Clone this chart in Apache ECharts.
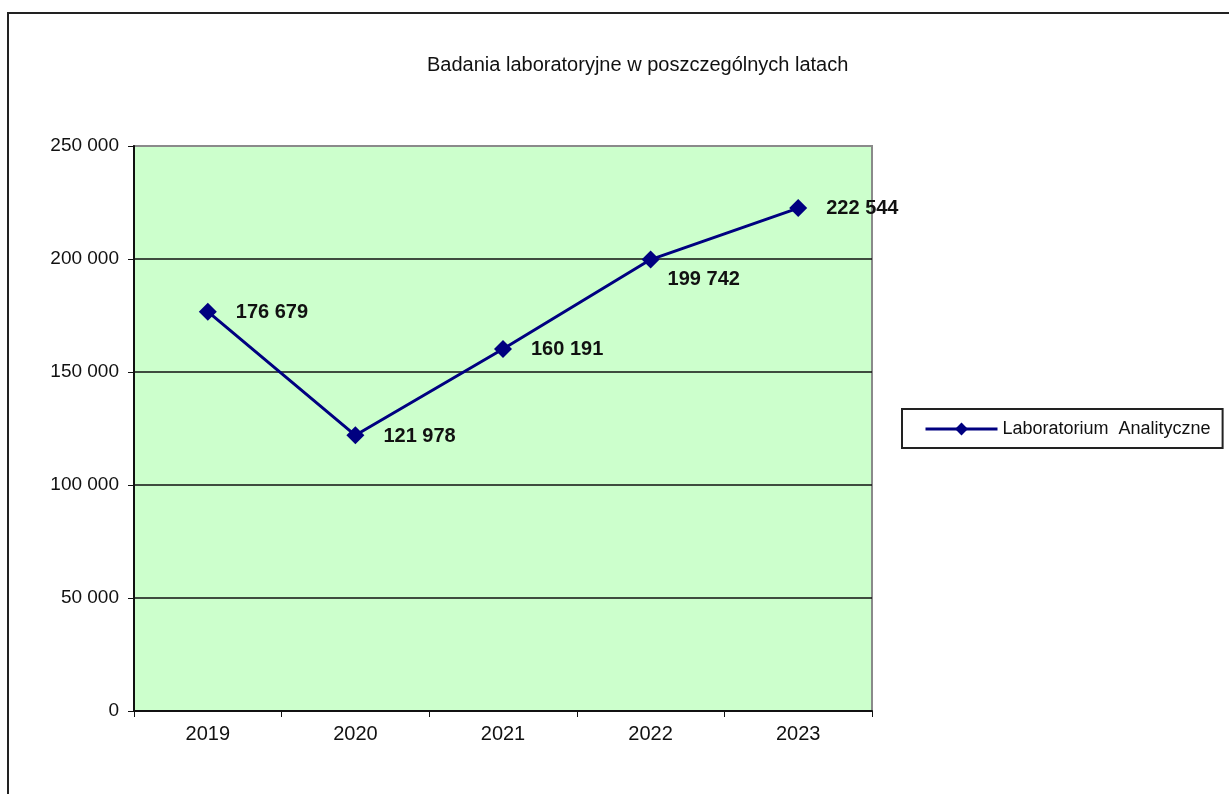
<!DOCTYPE html>
<html>
<head>
<meta charset="utf-8">
<title>Badania laboratoryjne</title>
<script src="https://cdn.jsdelivr.net/npm/echarts@6/dist/echarts.min.js"></script>
<style>
    html, body { margin: 0; padding: 0; background: #fff; }
    #chart { width: 1229px; height: 794px; }
</style>
</head>
<body>
<div id="chart"></div>
<script>
    // dane
    var years = ['2019', '2020', '2021', '2022', '2023'];
    var values = [176679, 121978, 160191, 199742, 222544];
    var seriesName = 'Laboratorium  Analityczne';

    // przesunięcia etykiet (dla 2022 etykieta pod punktem)
    var labelOffsets = [[0, 1], [0, 1], [0, 1], [-11, 20], [0, 0]];

    function fmt(v) {
        return String(v).replace(/\B(?=(\d{3})+(?!\d))/g, ' ');
    }

    var chart = echarts.init(document.getElementById('chart'));
    var option = {
        backgroundColor: '#fff',
        textStyle: { fontFamily: 'Liberation Sans, Arial, sans-serif' },
        graphic: [{
            type: 'rect',
            shape: { x: 8, y: 13, width: 1260, height: 820 },
            style: { fill: 'none', stroke: '#222', lineWidth: 2 },
            silent: true
        }],
        title: {
            text: 'Badania laboratoryjne w poszczególnych latach',
            left: 422,
            top: 50,
            textStyle: { fontSize: 20, fontWeight: 'normal', color: '#111' }
        },
        legend: {
            left: 902,
            top: 409,
            orient: 'vertical',
            borderColor: '#222',
            borderWidth: 2,
            padding: [11, 12, 10, 22],
            itemWidth: 72,
            itemHeight: 16,
            lineStyle: { width: 3 },
            textStyle: { fontSize: 18, color: '#111' },
            data: [seriesName]
        },
        grid: {
            left: 134,
            top: 146,
            width: 738,
            height: 565,
            show: true,
            backgroundColor: '#ccffcc',
            borderColor: '#8a8a8a',
            borderWidth: 2
        },
        xAxis: {
            type: 'category',
            data: years,
            boundaryGap: true,
            axisLine: { lineStyle: { color: '#111', width: 2 } },
            axisTick: { show: true, length: 6, lineStyle: { color: '#111' } },
            axisLabel: { fontSize: 20, color: '#111', margin: 13 }
        },
        yAxis: {
            type: 'value',
            min: 0,
            max: 250000,
            interval: 50000,
            axisLine: { show: true, lineStyle: { color: '#111', width: 2 } },
            axisTick: { show: true, length: 6, lineStyle: { color: '#111' } },
            axisLabel: { fontSize: 19, color: '#111', margin: 15, formatter: fmt },
            splitLine: { showMaxLine: false, lineStyle: { color: '#111', width: 1.5 } }
        },
        series: [{
            name: seriesName,
            type: 'line',
            data: values.map(function (v, i) {
                return { value: v, label: { offset: labelOffsets[i] } };
            }),
            symbol: 'diamond',
            symbolSize: 18,
            lineStyle: { color: '#000080', width: 3 },
            itemStyle: { color: '#000080' },
            label: {
                show: true,
                position: 'right',
                distance: 19,
                fontSize: 20,
                fontWeight: 'bold',
                color: '#111',
                formatter: function (p) { return fmt(p.value); }
            }
        }]
    };
    chart.setOption(option);
    window.addEventListener('resize', function () {
        chart.resize();
    });
</script>
</body>
</html>
